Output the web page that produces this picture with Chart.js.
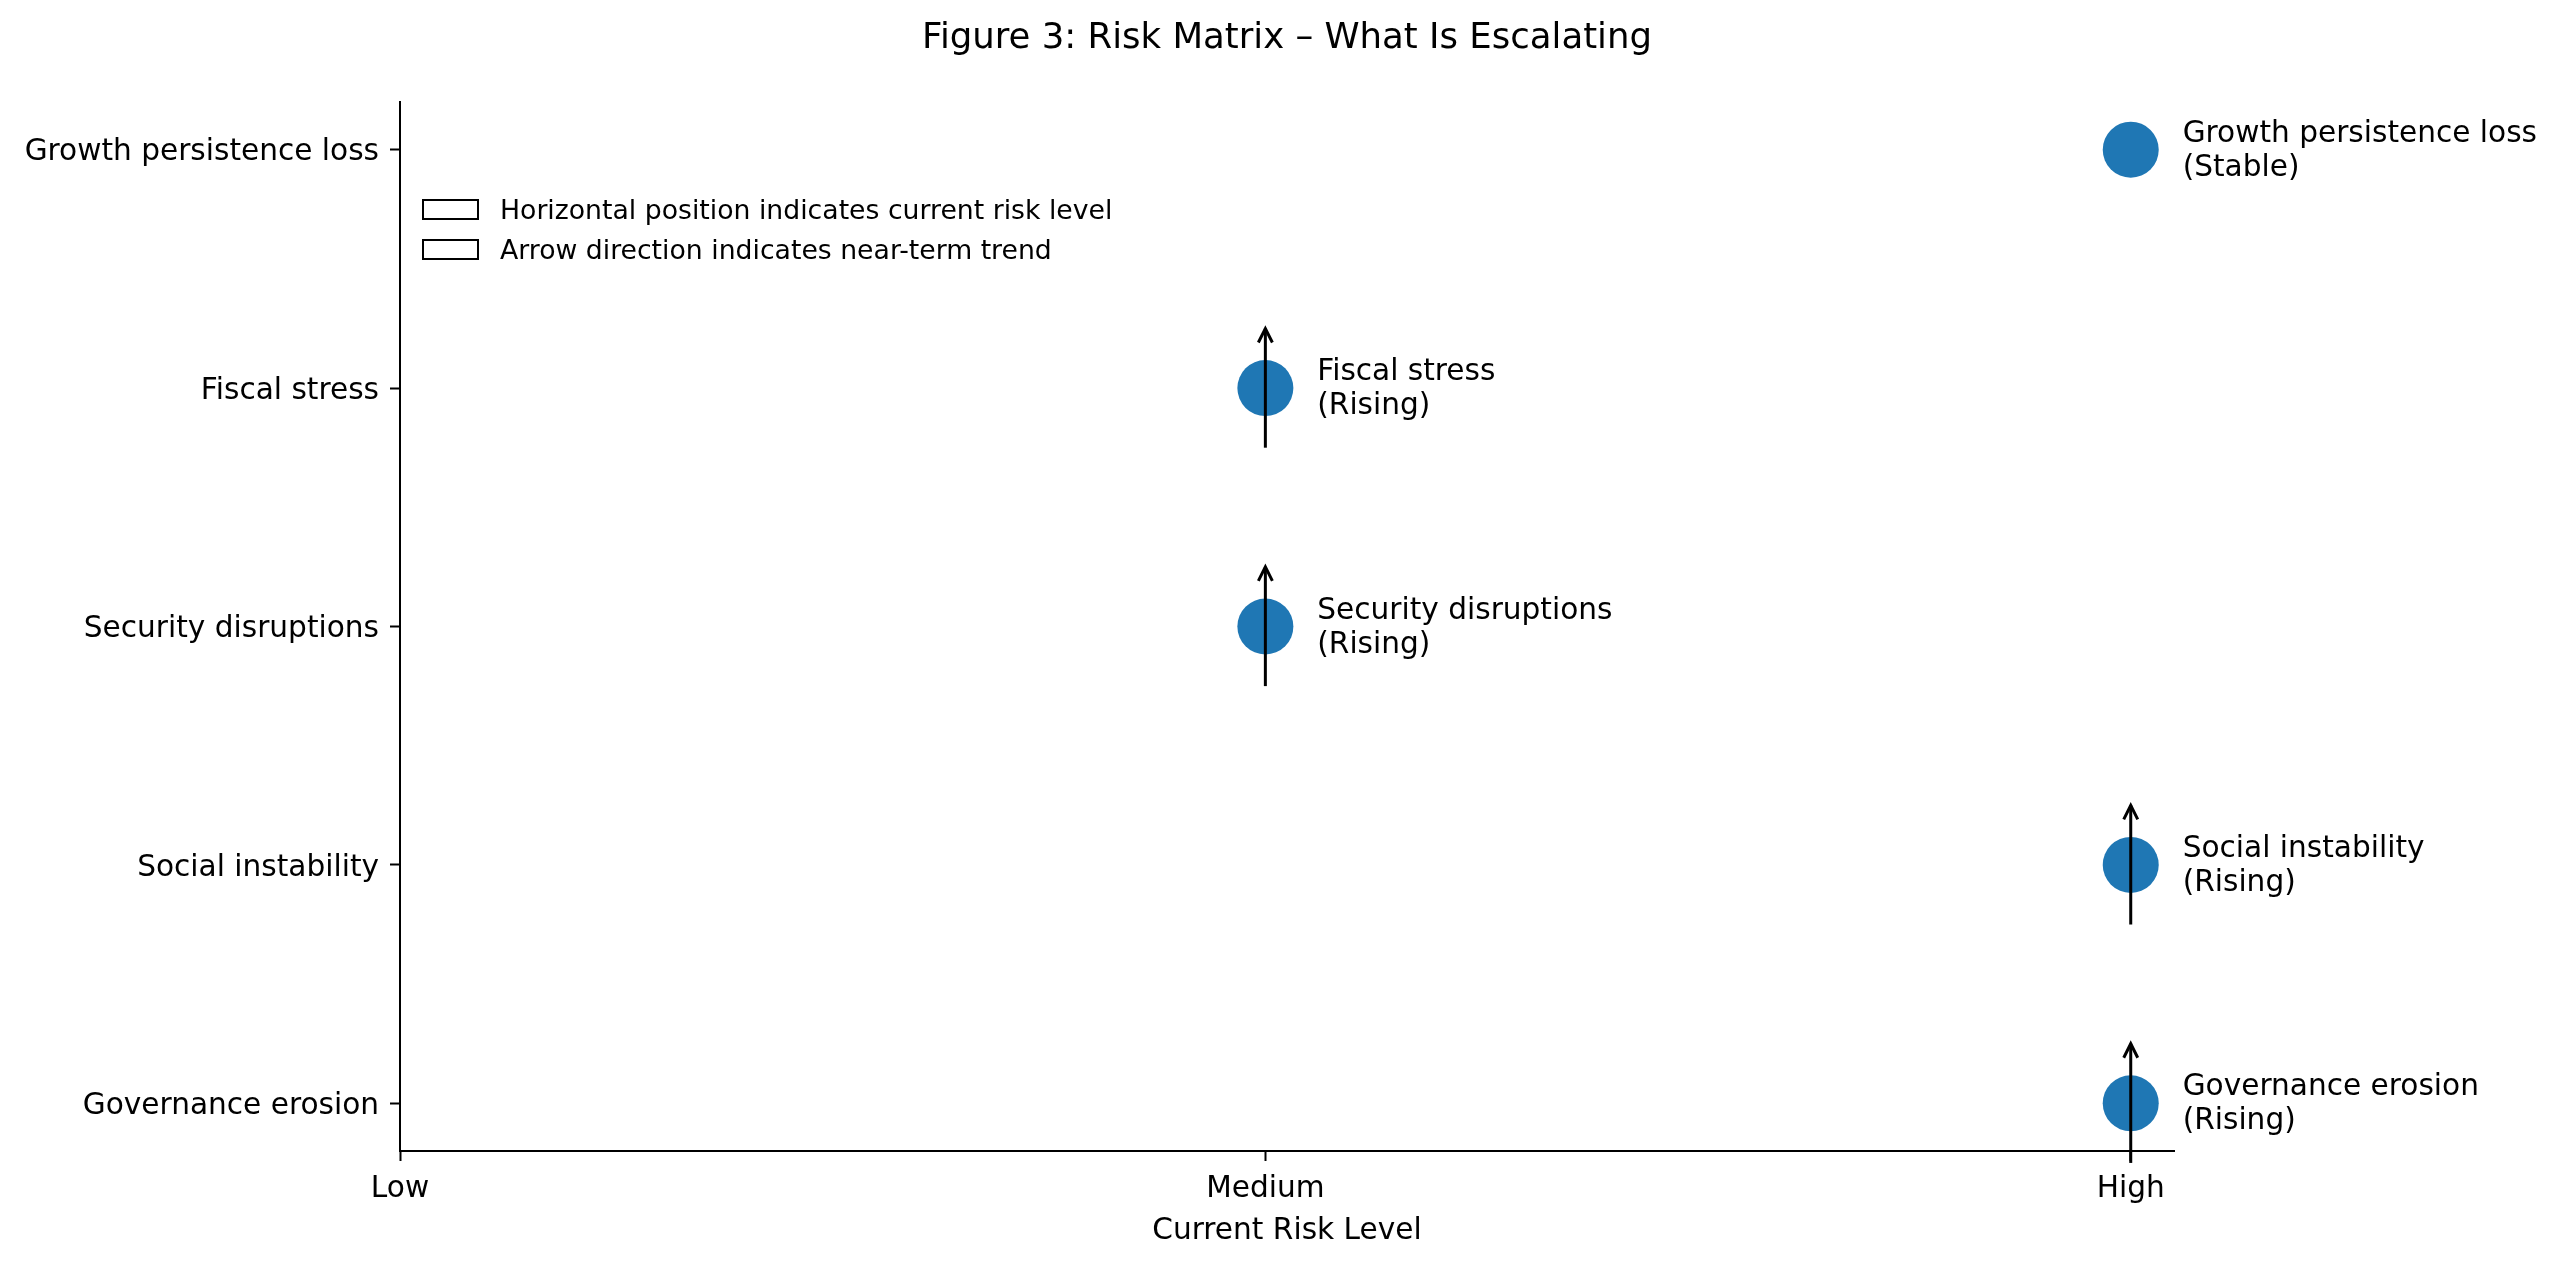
<!DOCTYPE html>
<html>
<head>
<meta charset="utf-8">
<script src="https://cdn.jsdelivr.net/npm/chart.js@4.4.1/dist/chart.umd.min.js"></script>
<style>
    html, body { margin: 0; padding: 0; background: #fff; }
    #wrap { width: 2560px; height: 1266px; }
</style>
</head>
<body>
<div id="wrap"><canvas id="chart" width="2560" height="1266"></canvas></div>
<script>
// bottom to top, as on the y axis
const riskNames = ['Governance erosion', 'Social instability', 'Security disruptions', 'Fiscal stress', 'Growth persistence loss'];
const riskLevels = [2, 2, 1, 1, 2];
const riskTrends = ['Rising', 'Rising', 'Rising', 'Rising', 'Stable'];
const levelLabels = ['Low', 'Medium', 'High'];
const legendLabels = ['Horizontal position indicates current risk level', 'Arrow direction indicates near-term trend'];
const chartTitle = 'Figure 3: Risk Matrix – What Is Escalating';

const FONT = '"DejaVu Sans", sans-serif';
const BLUE = '#1f77b4';
const LABEL_DX = 0.06;
const ARROW_HALF = 0.25;
const trendDirection = { Rising: 1, Falling: -1, Stable: 0 };

Chart.defaults.font.family = FONT;
Chart.defaults.color = '#000';

const overlay = {
    id: 'riskOverlay',
    afterDatasetsDraw(chart) {
        const { ctx, chartArea } = chart;
        const xs = chart.scales.x;
        const ys = chart.scales.y;
        ctx.save();

        // trend arrows, drawn over the markers
        ctx.strokeStyle = '#000';
        ctx.lineWidth = 3;
        ctx.lineJoin = 'miter';
        riskNames.forEach((name, i) => {
            const dir = trendDirection[riskTrends[i]] ?? 0;
            if (dir === 0) {
                return;
            }
            const px = xs.getPixelForValue(riskLevels[i]);
            const tail = ys.getPixelForValue(i - dir * ARROW_HALF);
            const tip = ys.getPixelForValue(i + dir * ARROW_HALF);
            const back = dir > 0 ? 14 : -14;
            ctx.beginPath();
            ctx.moveTo(px, tail);
            ctx.lineTo(px, tip);
            ctx.stroke();
            ctx.beginPath();
            ctx.moveTo(px - 7, tip + back);
            ctx.lineTo(px, tip);
            ctx.lineTo(px + 7, tip + back);
            ctx.stroke();
        });

        // point labels
        ctx.fillStyle = '#000';
        ctx.font = '29.6px ' + FONT;
        ctx.textAlign = 'left';
        ctx.textBaseline = 'alphabetic';
        riskNames.forEach((name, i) => {
            const px = xs.getPixelForValue(riskLevels[i] + LABEL_DX);
            const py = ys.getPixelForValue(i);
            ctx.fillText(name, px, py - 8);
            ctx.fillText('(' + riskTrends[i] + ')', px, py + 26);
        });

        // legend (empty boxes, upper left inside the axes)
        ctx.font = '26.7px ' + FONT;
        ctx.lineWidth = 2;
        legendLabels.forEach((text, i) => {
            const top = chartArea.top + 98 + i * 40;
            ctx.strokeRect(chartArea.left + 23, top, 55, 19);
            ctx.fillText(text, chartArea.left + 100, top + 19);
        });

        // title, centred over the axes
        ctx.font = '35.5px ' + FONT;
        ctx.textAlign = 'center';
        ctx.fillText(chartTitle, (chartArea.left + chartArea.right) / 2, 48);

        ctx.restore();
    },
};

new Chart(document.getElementById('chart').getContext('2d'), {
    type: 'scatter',
    data: {
        datasets: [
            {
                data: riskNames.map((name, i) => ({ x: riskLevels[i], y: i })),
                backgroundColor: BLUE,
                borderWidth: 0,
                pointRadius: 28,
                pointHoverRadius: 28,
                clip: false,
            },
        ],
    },
    options: {
        responsive: false,
        devicePixelRatio: 1,
        animation: false,
        events: [],
        layout: {
            padding: { top: 102, right: 386, bottom: 0, left: 0 },
        },
        plugins: {
            legend: { display: false },
            tooltip: { enabled: false },
            title: { display: false },
        },
        scales: {
            x: {
                type: 'linear',
                min: 0,
                max: 2.05,
                afterBuildTicks(scale) {
                    scale.ticks = levelLabels.map((label, i) => ({ value: i }));
                },
                afterFit(scale) {
                    scale.height = 115;
                },
                ticks: {
                    callback: (value) => levelLabels[value] ?? '',
                    font: { size: 29.6 },
                    padding: 11,
                    maxRotation: 0,
                },
                grid: {
                    drawOnChartArea: false,
                    drawTicks: true,
                    tickLength: 10,
                    tickWidth: 2,
                    color: '#000',
                },
                border: { display: true, color: '#000', width: 2 },
                title: {
                    display: true,
                    text: 'Current Risk Level',
                    font: { size: 29.6 },
                    padding: { top: 0, bottom: 17 },
                },
            },
            y: {
                type: 'linear',
                min: -0.2,
                max: 4.2,
                afterBuildTicks(scale) {
                    scale.ticks = riskNames.map((name, i) => ({ value: i }));
                },
                afterFit(scale) {
                    scale.width = 400;
                },
                ticks: {
                    callback: (value) => riskNames[value] ?? '',
                    font: { size: 29.6 },
                    padding: 11,
                    labelOffset: 3,
                },
                grid: {
                    drawOnChartArea: false,
                    drawTicks: true,
                    tickLength: 10,
                    tickWidth: 2,
                    color: '#000',
                },
                border: { display: true, color: '#000', width: 2 },
            },
        },
    },
    plugins: [overlay],
});
</script>
</body>
</html>
